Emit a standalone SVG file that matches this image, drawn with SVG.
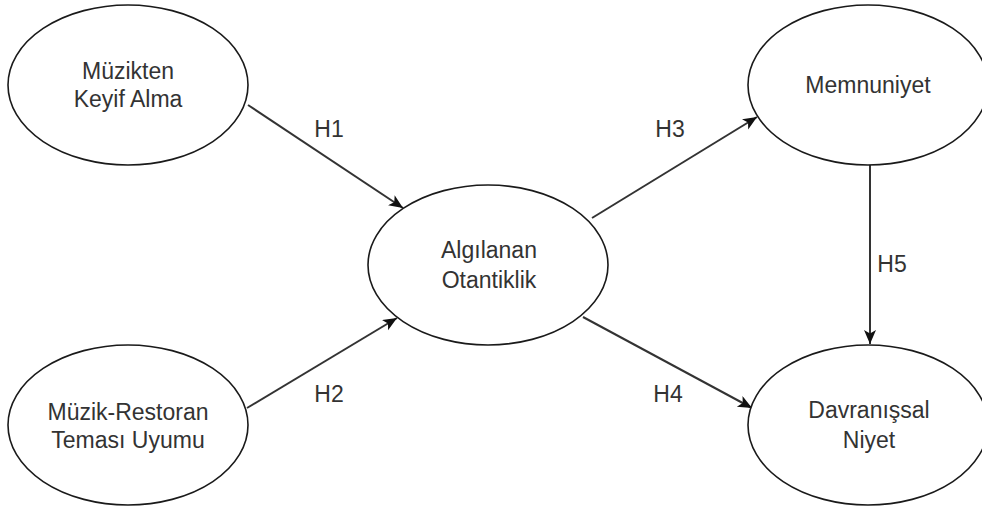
<svg xmlns="http://www.w3.org/2000/svg" width="982" height="509" viewBox="0 0 982 509">
<style>
.node ellipse{fill:#fff;stroke:#1a1a1a;stroke-width:1.6}
text{font-family:"Liberation Sans",Arial,sans-serif;font-size:23px;fill:#333;text-anchor:middle}
.edge{stroke:#333;stroke-width:2;fill:none;marker-end:url(#arr)}
</style>
<defs>
<marker id="arr" markerUnits="userSpaceOnUse" markerWidth="16" markerHeight="14" refX="14" refY="6" orient="auto">
<path d="M0,0 L14,6 L0,12 L3.5,6 Z" fill="#111"/>
</marker>
</defs>
<rect width="982" height="509" fill="#fff"/>
<g id="connectors">
<line class="edge" x1="248" y1="105" x2="403" y2="208"/>
<line class="edge" x1="247" y1="408" x2="397" y2="318"/>
<line class="edge" x1="592" y1="218" x2="757" y2="117"/>
<line class="edge" x1="583" y1="317" x2="752" y2="408"/>
<line class="edge" x1="870" y1="165" x2="870" y2="344"/>
<text x="329" y="137">H1</text>
<text x="329" y="402">H2</text>
<text x="670" y="137">H3</text>
<text x="668" y="402">H4</text>
<text x="892" y="272">H5</text>
</g>
<g id="n1" class="node"><ellipse cx="128" cy="85" rx="120" ry="80"/><text x="128" y="79">Müzikten</text><text x="128" y="107">Keyif Alma</text></g>
<g id="n2" class="node"><ellipse cx="128" cy="425" rx="120" ry="80"/><text x="128" y="420">Müzik-Restoran</text><text x="128" y="448">Teması Uyumu</text></g>
<g id="n3" class="node"><ellipse cx="488" cy="265" rx="120" ry="80"/><text x="489" y="258">Algılanan</text><text x="489" y="288">Otantiklik</text></g>
<g id="n4" class="node"><ellipse cx="868" cy="85" rx="120" ry="80"/><text x="868" y="93">Memnuniyet</text></g>
<g id="n5" class="node"><ellipse cx="868" cy="425" rx="120" ry="80"/><text x="869" y="418">Davranışsal</text><text x="869" y="448">Niyet</text></g>
</svg>
